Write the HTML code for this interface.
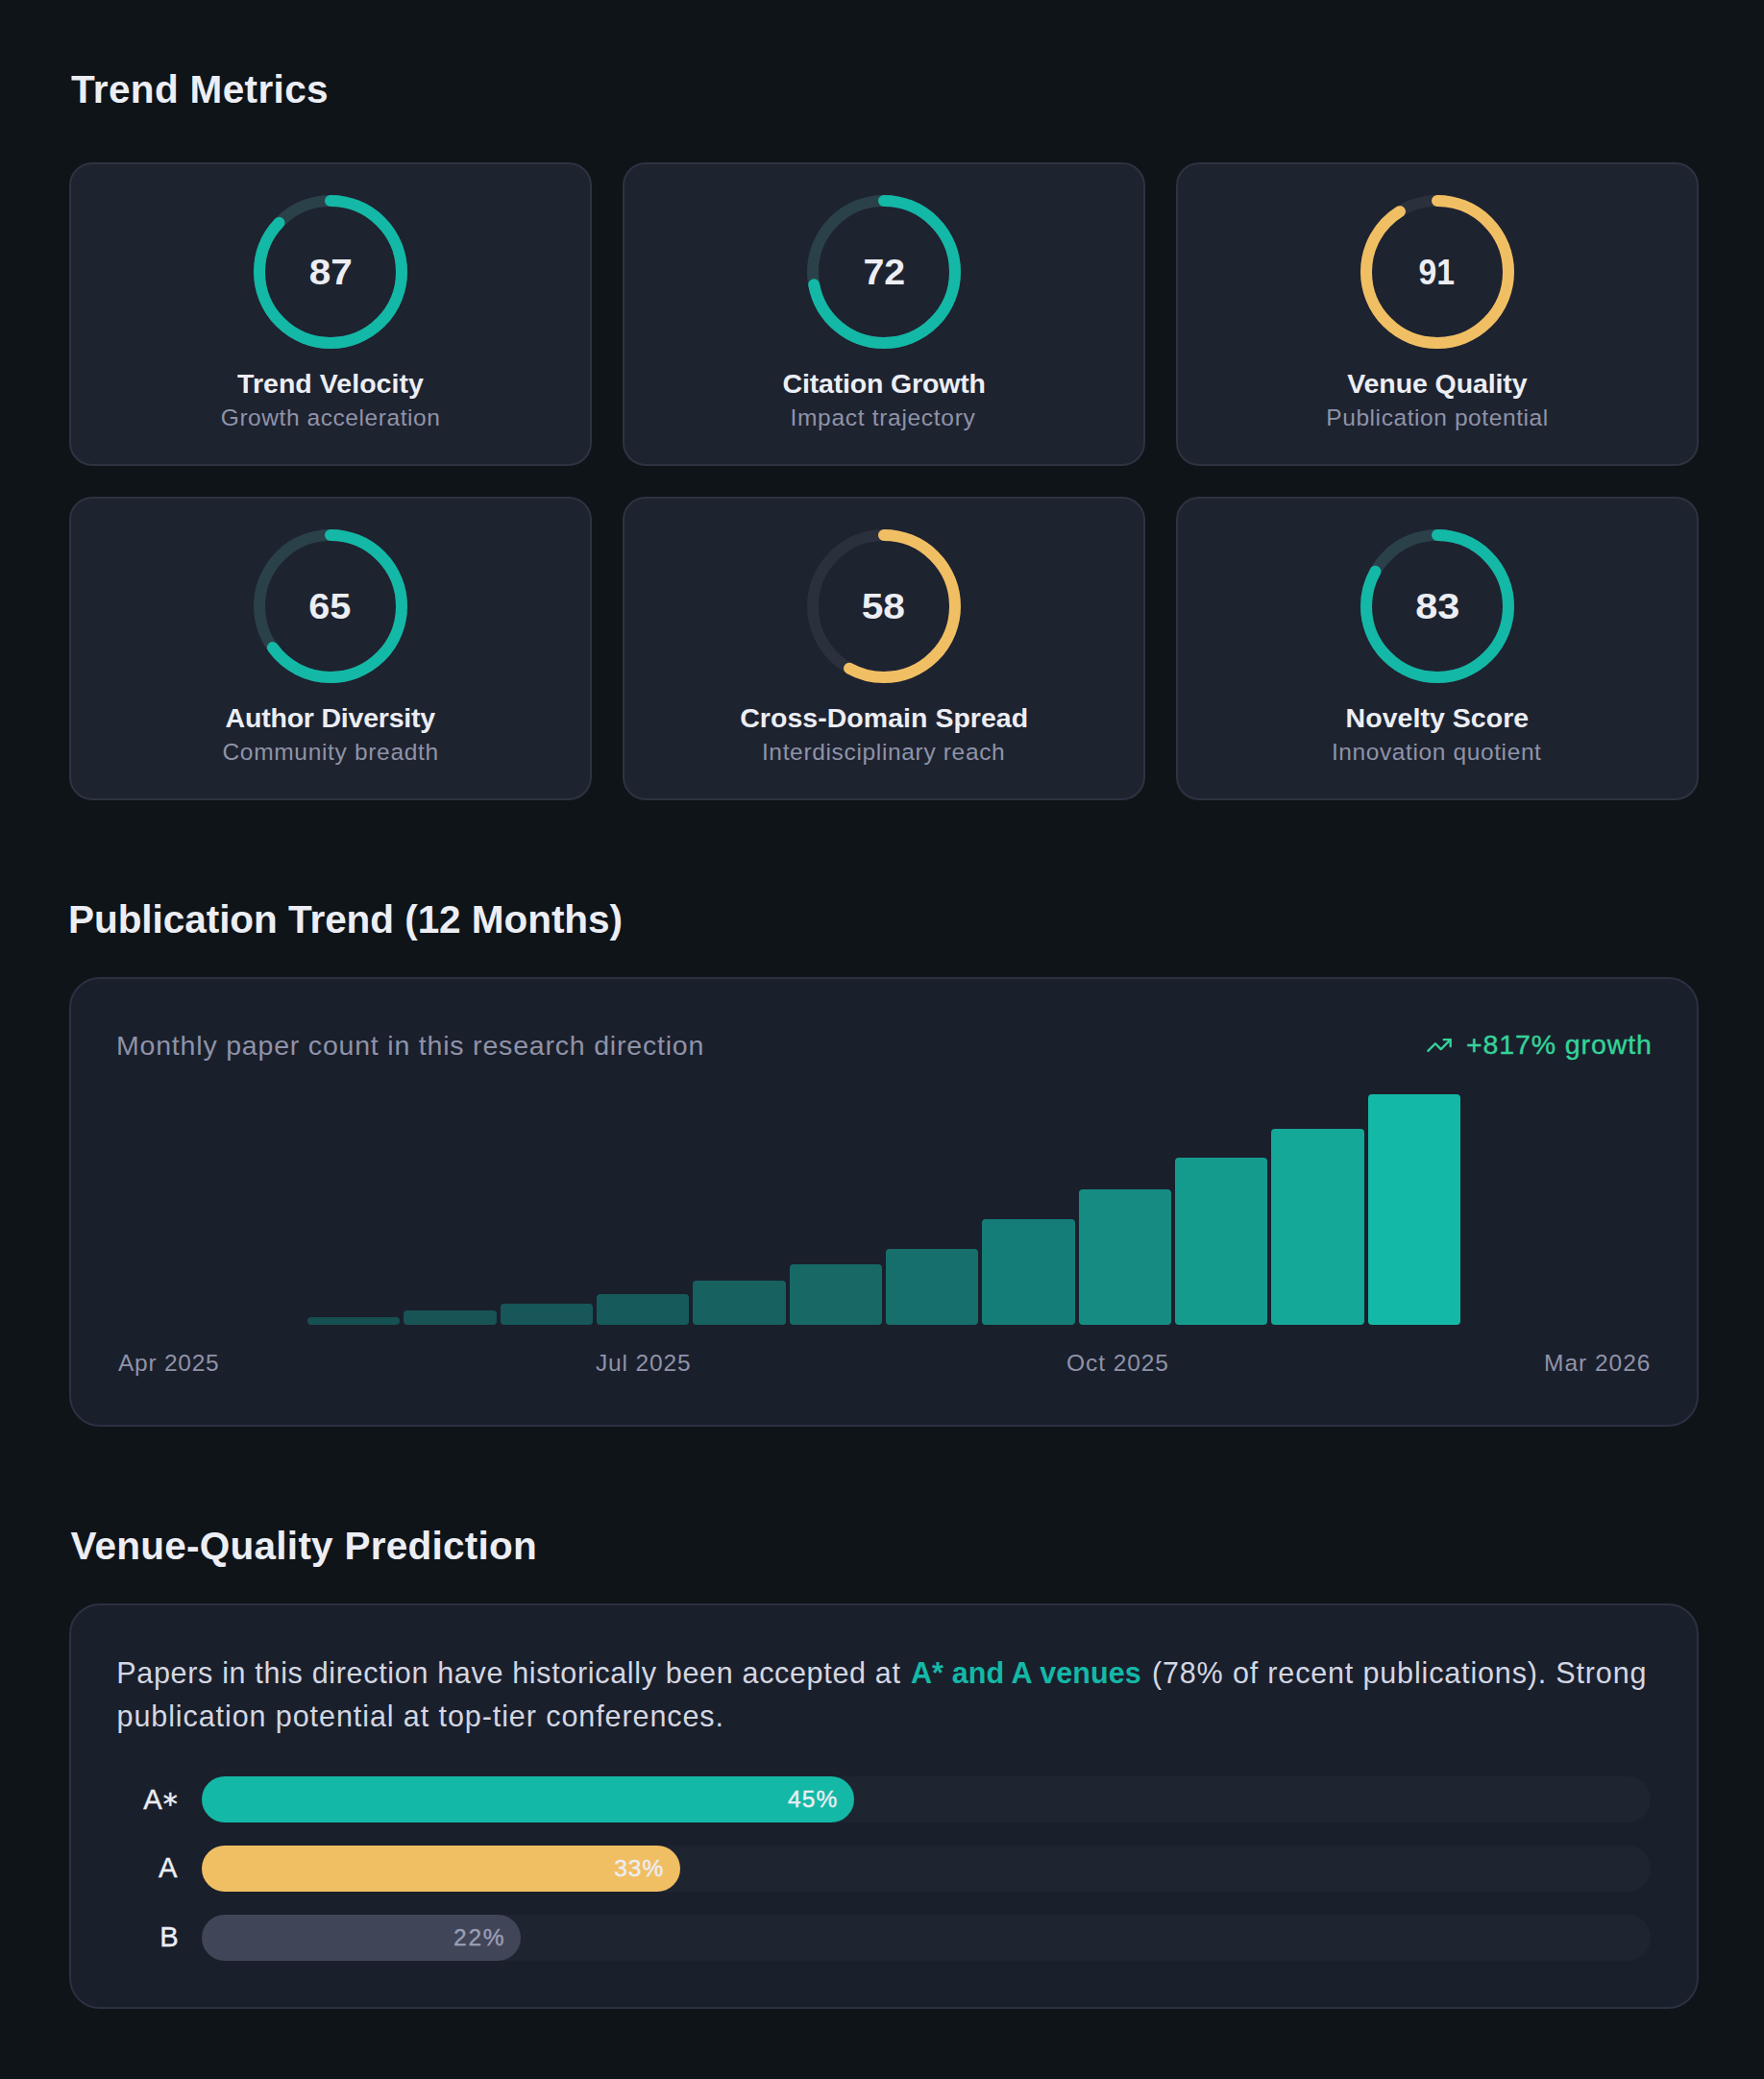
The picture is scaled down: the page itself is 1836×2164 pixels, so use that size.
<!DOCTYPE html>
<html lang="en">
<head>
<meta charset="utf-8">
<title>Trend Metrics</title>
<style>
*{box-sizing:border-box;margin:0;padding:0}
html,body{width:1836px;height:2164px;background:#0f1419;overflow:hidden}
body{position:relative;font-family:"Liberation Sans",sans-serif;color:#eceef4}
.abs{position:absolute}
.tx{position:absolute;white-space:nowrap;font-style:normal}
.mcard{position:absolute;width:544px;height:316px;background:#1e2330;border:2px solid #2d3340;border-radius:24px}
.mcard svg{position:absolute;left:190px;top:32px;width:160px;height:160px}
.card{position:absolute;left:72px;width:1696px;background:#1a1f2c;border:2px solid #2b3141;border-radius:32px}
.bar{position:absolute;bottom:0;background:#14b8a6;border-radius:4px}
.track{position:absolute;left:136px;width:1508px;height:48px;border-radius:24px;background:#1f2431}
.fill{height:48px;border-radius:24px}
</style>
</head>
<body>
<h2 class="tx" style="left:74.00px;top:68.77px;font-size:40.5px;line-height:49px;font-weight:700;color:#eceef4;letter-spacing:0.350px">Trend Metrics</h2>
<div class="grid">
<article class="mcard" style="left:72px;top:169px">
<svg viewBox="0 0 160 160"><circle cx="80" cy="80" r="74" fill="none" stroke="#2a414a" stroke-width="12"/><circle cx="80" cy="80" r="74" fill="none" stroke="#14b8a6" stroke-width="12" stroke-linecap="round" stroke-dasharray="404.51 464.96" transform="rotate(-90 80 80)"/></svg>
<div class="tx num" style="left:249.85px;top:90.55px;font-size:36.5px;line-height:44px;font-weight:700;color:#eceef4;transform:scaleX(1.110);transform-origin:20.15px 50%">87</div>
<h3 class="tx" style="left:173.00px;top:210.72px;font-size:28.5px;line-height:34px;font-weight:700;color:#eceef4;letter-spacing:0.047px">Trend Velocity</h3>
<p class="tx" style="left:155.75px;top:248.51px;font-size:24.5px;line-height:29px;font-weight:400;color:#8f93a8;letter-spacing:0.569px">Growth acceleration</p>
</article>
<article class="mcard" style="left:648px;top:169px">
<svg viewBox="0 0 160 160"><circle cx="80" cy="80" r="74" fill="none" stroke="#2a414a" stroke-width="12"/><circle cx="80" cy="80" r="74" fill="none" stroke="#14b8a6" stroke-width="12" stroke-linecap="round" stroke-dasharray="334.77 464.96" transform="rotate(-90 80 80)"/></svg>
<div class="tx num" style="left:249.85px;top:90.55px;font-size:36.5px;line-height:44px;font-weight:700;color:#eceef4;transform:scaleX(1.076);transform-origin:20.15px 50%">72</div>
<h3 class="tx" style="left:164.50px;top:210.72px;font-size:28.5px;line-height:34px;font-weight:700;color:#eceef4;letter-spacing:-0.165px">Citation Growth</h3>
<p class="tx" style="left:172.50px;top:248.51px;font-size:24.5px;line-height:29px;font-weight:400;color:#8f93a8;letter-spacing:0.698px">Impact trajectory</p>
</article>
<article class="mcard" style="left:1224px;top:169px">
<svg viewBox="0 0 160 160"><circle cx="80" cy="80" r="74" fill="none" stroke="#2b303d" stroke-width="12"/><circle cx="80" cy="80" r="74" fill="none" stroke="#f1bf63" stroke-width="12" stroke-linecap="round" stroke-dasharray="423.11 464.96" transform="rotate(-90 80 80)"/></svg>
<div class="tx num" style="left:249.35px;top:90.55px;font-size:36.5px;line-height:44px;font-weight:700;color:#eceef4;transform:scaleX(0.924);transform-origin:20.65px 50%">91</div>
<h3 class="tx" style="left:176.25px;top:210.72px;font-size:28.5px;line-height:34px;font-weight:700;color:#eceef4;letter-spacing:-0.094px">Venue Quality</h3>
<p class="tx" style="left:154.25px;top:248.51px;font-size:24.5px;line-height:29px;font-weight:400;color:#8f93a8;letter-spacing:0.583px">Publication potential</p>
</article>
<article class="mcard" style="left:72px;top:517px">
<svg viewBox="0 0 160 160"><circle cx="80" cy="80" r="74" fill="none" stroke="#2a414a" stroke-width="12"/><circle cx="80" cy="80" r="74" fill="none" stroke="#14b8a6" stroke-width="12" stroke-linecap="round" stroke-dasharray="302.22 464.96" transform="rotate(-90 80 80)"/></svg>
<div class="tx num" style="left:249.35px;top:90.55px;font-size:36.5px;line-height:44px;font-weight:700;color:#eceef4;transform:scaleX(1.087);transform-origin:20.65px 50%">65</div>
<h3 class="tx" style="left:160.62px;top:210.72px;font-size:28.5px;line-height:34px;font-weight:700;color:#eceef4;letter-spacing:-0.207px">Author Diversity</h3>
<p class="tx" style="left:157.50px;top:248.51px;font-size:24.5px;line-height:29px;font-weight:400;color:#8f93a8;letter-spacing:0.677px">Community breadth</p>
</article>
<article class="mcard" style="left:648px;top:517px">
<svg viewBox="0 0 160 160"><circle cx="80" cy="80" r="74" fill="none" stroke="#2b303d" stroke-width="12"/><circle cx="80" cy="80" r="74" fill="none" stroke="#f1bf63" stroke-width="12" stroke-linecap="round" stroke-dasharray="269.67 464.96" transform="rotate(-90 80 80)"/></svg>
<div class="tx num" style="left:249.35px;top:90.55px;font-size:36.5px;line-height:44px;font-weight:700;color:#eceef4;transform:scaleX(1.115);transform-origin:20.65px 50%">58</div>
<h3 class="tx" style="left:120.25px;top:210.72px;font-size:28.5px;line-height:34px;font-weight:700;color:#eceef4;letter-spacing:0.033px">Cross-Domain Spread</h3>
<p class="tx" style="left:142.90px;top:248.51px;font-size:24.5px;line-height:29px;font-weight:400;color:#8f93a8;letter-spacing:0.660px">Interdisciplinary reach</p>
</article>
<article class="mcard" style="left:1224px;top:517px">
<svg viewBox="0 0 160 160"><circle cx="80" cy="80" r="74" fill="none" stroke="#2a414a" stroke-width="12"/><circle cx="80" cy="80" r="74" fill="none" stroke="#14b8a6" stroke-width="12" stroke-linecap="round" stroke-dasharray="385.91 464.96" transform="rotate(-90 80 80)"/></svg>
<div class="tx num" style="left:249.85px;top:90.55px;font-size:36.5px;line-height:44px;font-weight:700;color:#eceef4;transform:scaleX(1.136);transform-origin:20.15px 50%">83</div>
<h3 class="tx" style="left:174.62px;top:210.72px;font-size:28.5px;line-height:34px;font-weight:700;color:#eceef4;letter-spacing:0.043px">Novelty Score</h3>
<p class="tx" style="left:159.88px;top:248.51px;font-size:24.5px;line-height:29px;font-weight:400;color:#8f93a8;letter-spacing:0.611px">Innovation quotient</p>
</article>
</div>

<h2 class="tx" style="left:71.00px;top:932.97px;font-size:40.5px;line-height:49px;font-weight:700;color:#eceef4;letter-spacing:-0.046px">Publication Trend (12 Months)</h2>
<section class="card" style="top:1017px;height:468px">
<p class="tx" style="left:47.00px;top:51.62px;font-size:28.5px;line-height:34px;font-weight:400;color:#8f93a8;letter-spacing:0.807px">Monthly paper count in this research direction</p>
<svg class="abs" style="left:1410px;top:55px" width="28" height="28" viewBox="0 0 24 24" fill="none" stroke="#34d399" stroke-width="2" stroke-linecap="round" stroke-linejoin="round"><polyline points="22 7 13.5 15.5 8.5 10.5 2 17"/><polyline points="16 7 22 7 22 13"/></svg>
<div class="tx" style="left:1452.00px;top:51.42px;font-size:28.5px;line-height:34px;font-weight:400;color:#34d399;letter-spacing:0.896px;-webkit-text-stroke:0.4px #34d399">+817% growth</div>
<div class="abs" style="left:48px;top:120px;width:1596px;height:240px">
<div class="bar" style="left:198.00px;width:96.3px;height:8px;opacity:0.323"></div>
<div class="bar" style="left:298.34px;width:96.3px;height:15px;opacity:0.344"></div>
<div class="bar" style="left:398.68px;width:96.3px;height:22px;opacity:0.364"></div>
<div class="bar" style="left:499.02px;width:96.3px;height:32px;opacity:0.393"></div>
<div class="bar" style="left:599.36px;width:96.3px;height:46px;opacity:0.434"></div>
<div class="bar" style="left:699.70px;width:96.3px;height:63px;opacity:0.484"></div>
<div class="bar" style="left:800.04px;width:96.3px;height:79px;opacity:0.530"></div>
<div class="bar" style="left:900.38px;width:96.3px;height:110px;opacity:0.621"></div>
<div class="bar" style="left:1000.72px;width:96.3px;height:141px;opacity:0.711"></div>
<div class="bar" style="left:1101.06px;width:96.3px;height:174px;opacity:0.807"></div>
<div class="bar" style="left:1201.40px;width:96.3px;height:204.5px;opacity:0.896"></div>
<div class="bar" style="left:1301.74px;width:96.3px;height:240px;opacity:1.000"></div>
</div>
<span class="tx" style="left:49.00px;top:385.01px;font-size:24.5px;line-height:29px;font-weight:400;color:#8f93a8;letter-spacing:0.741px">Apr 2025</span><span class="tx" style="left:546.00px;top:385.01px;font-size:24.5px;line-height:29px;font-weight:400;color:#8f93a8;letter-spacing:0.857px">Jul 2025</span><span class="tx" style="left:1036.00px;top:385.01px;font-size:24.5px;line-height:29px;font-weight:400;color:#8f93a8;letter-spacing:0.929px">Oct 2025</span><span class="tx" style="left:1533.00px;top:385.01px;font-size:24.5px;line-height:29px;font-weight:400;color:#8f93a8;letter-spacing:0.989px">Mar 2026</span>
</section>

<h2 class="tx" style="left:73.50px;top:1584.97px;font-size:40.5px;line-height:49px;font-weight:700;color:#eceef4;letter-spacing:0.256px">Venue-Quality Prediction</h2>
<section class="card" style="top:1669px;height:422px">
<p><span class="tx" style="left:47.30px;top:51.93px;font-size:30.5px;line-height:37px;font-weight:400;color:#d4d7e2;letter-spacing:0.675px">Papers in this direction have historically been accepted at</span> <strong class="tx" style="left:874.00px;top:51.93px;font-size:30.5px;line-height:37px;font-weight:700;color:#14b8a6;letter-spacing:0.092px">A* and A venues</strong> <span class="tx" style="left:1125.00px;top:51.93px;font-size:30.5px;line-height:37px;font-weight:400;color:#d4d7e2;letter-spacing:0.845px">(78% of recent publications). Strong</span> <span class="tx" style="left:47.50px;top:96.93px;font-size:30.5px;line-height:37px;font-weight:400;color:#d4d7e2;letter-spacing:0.921px">publication potential at top-tier conferences.</span></p>
<div class="tx" style="left:75.20px;top:184.08px;font-size:29.2px;line-height:35px;font-weight:400;color:#eceef4;-webkit-text-stroke:0.4px #eceef4">A<span style="font-family:'DejaVu Sans',sans-serif;font-size:30px;position:relative;top:5px;margin-left:1.1px;-webkit-text-stroke:0.5px #eceef4">*</span></div>
<div class="track" style="top:178px"><div class="fill" style="width:45%;background:#14b8a6"></div></div>
<div class="tx" style="left:746.10px;top:187.31px;font-size:24.5px;line-height:29px;font-weight:400;color:#eceef4;letter-spacing:1.124px;-webkit-text-stroke:0.4px #eceef4">45%</div>
<div class="tx" style="left:91.00px;top:256.08px;font-size:29.2px;line-height:35px;font-weight:400;color:#eceef4;-webkit-text-stroke:0.4px #eceef4">A</div>
<div class="track" style="top:250px"><div class="fill" style="width:33%;background:#f1bf63"></div></div>
<div class="tx" style="left:565.14px;top:259.31px;font-size:24.5px;line-height:29px;font-weight:400;color:#eceef4;letter-spacing:1.124px;-webkit-text-stroke:0.4px #eceef4">33%</div>
<div class="tx" style="left:92.30px;top:328.08px;font-size:29.2px;line-height:35px;font-weight:400;color:#eceef4;-webkit-text-stroke:0.4px #eceef4">B</div>
<div class="track" style="top:322px"><div class="fill" style="width:22%;background:#414558"></div></div>
<div class="tx" style="left:398.06px;top:331.31px;font-size:24.5px;line-height:29px;font-weight:400;color:#9a9eb5;letter-spacing:1.724px;-webkit-text-stroke:0.4px #9a9eb5">22%</div>
</section>
</body>
</html>
